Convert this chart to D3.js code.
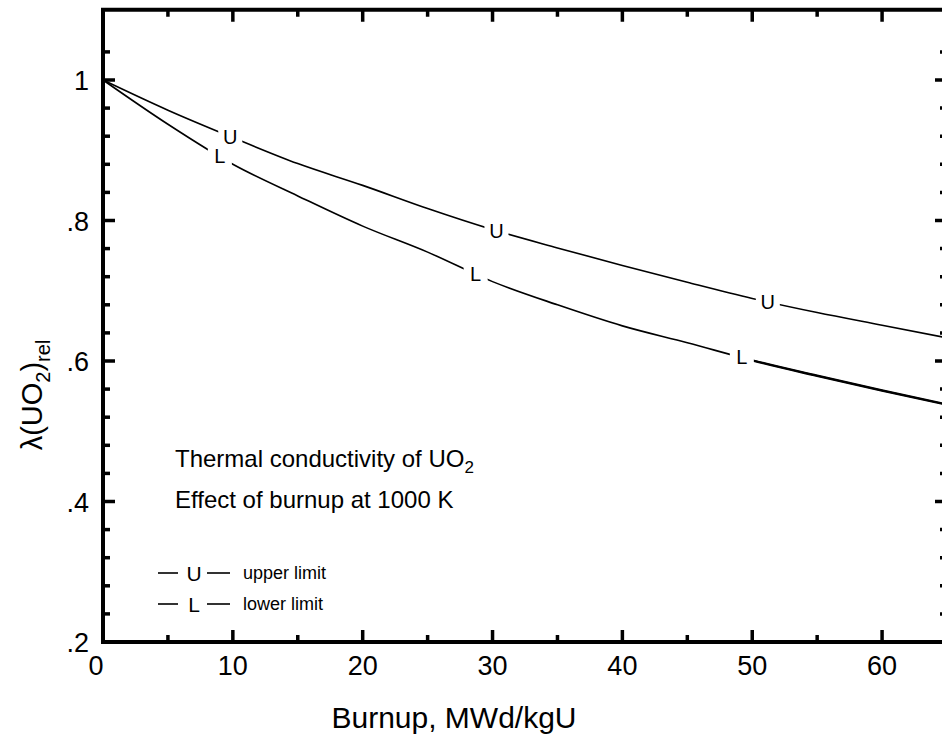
<!DOCTYPE html>
<html>
<head>
<meta charset="utf-8">
<script src="https://cdn.jsdelivr.net/npm/d3@7"></script>
<style>
  body { margin: 0; background: #fff; }
  svg text { font-family: "Liberation Sans", Arial, sans-serif; fill: #000; }
</style>
</head>
<body>
<svg id="chart" width="942" height="734"></svg>
<script>
'use strict';

// burnup, MWd/kgU
var burnup = [0, 5, 10, 15, 20, 25, 30, 35, 40, 45, 50, 55, 60, 65];
// relative conductivity
var upperVals = [1.000, 0.957, 0.918, 0.881, 0.850, 0.817, 0.787, 0.761, 0.736, 0.712, 0.689, 0.669, 0.651, 0.633];
var lowerVals = [1.000, 0.937, 0.880, 0.835, 0.792, 0.755, 0.713, 0.680, 0.650, 0.626, 0.601, 0.579, 0.558, 0.538];

// where the curve letters sit (burnup)
var upperMarks = [9.8, 30.3, 51.2];
var lowerMarks = [9.0, 28.7, 49.2];

var xMajor = [0, 10, 20, 30, 40, 50, 60];
var xMinor = [5, 15, 25, 35, 45, 55];
var yMajor = [0.2, 0.4, 0.6, 0.8, 1.0];
var yMinor = [0.24, 0.28, 0.32, 0.36, 0.44, 0.48, 0.52, 0.56, 0.64, 0.68, 0.72, 0.76, 0.84, 0.88, 0.92, 0.96, 1.04];
var yLabels = [".2", ".4", ".6", ".8", "1"];

var series = [
    {sym: "U", name: "upper limit", vals: upperVals, marks: upperMarks},
    {sym: "L", name: "lower limit", vals: lowerVals, marks: lowerMarks}
];

var svg = d3.select("#chart");

var x = d3.scaleLinear().domain([0, 65]).range([103, 947]),
    y = d3.scaleLinear().domain([0.2, 1.1]).range([642, 9.75]);

var pLeft = x.range()[0], pRight = x.range()[1],
    pBottom = y.range()[0], pTop = y.range()[1];

// curves
var line = d3.line()
    .x(function(d) { return x(d[0]); })
    .y(function(d) { return y(d[1]); })
    .curve(d3.curveMonotoneX);

series.forEach(function(s, k) {
    var pts = burnup.map(function(b, i) { return [b, s.vals[i]]; });
    svg.append("path")
        .attr("d", line(pts))
        .style("fill", "none")
        .style("stroke", "#000")
        .style("stroke-width", 1.6);
    // lower curve is drawn heavier past its last letter
    if (k === 1) {
        var from = s.marks[s.marks.length - 1];
        var interp = d3.scaleLinear().domain(burnup).range(s.vals);
        var tail = [[from, interp(from)]].concat(pts.filter(function(p) { return p[0] > from; }));
        svg.append("path")
            .attr("d", line(tail))
            .style("fill", "none")
            .style("stroke", "#000")
            .style("stroke-width", 2.4);
    }
});

// letters on the curves, with a gap cut out of the line
series.forEach(function(s) {
    var interp = d3.scaleLinear().domain(burnup).range(s.vals);
    s.marks.forEach(function(b) {
        var cx = x(b), cy = y(interp(b));
        svg.append("rect")
            .attr("x", cx - 12).attr("y", cy - 9)
            .attr("width", 24).attr("height", 18)
            .style("fill", "#fff");
        svg.append("text")
            .attr("x", cx).attr("y", cy)
            .attr("text-anchor", "middle")
            .attr("dominant-baseline", "central")
            .style("font-size", "20px")
            .text(s.sym);
    });
});

// frame + ticks
var frame = svg.append("g").style("stroke", "#000");

frame.append("rect")
    .attr("x", pLeft).attr("y", pTop)
    .attr("width", pRight - pLeft).attr("height", pBottom - pTop)
    .style("fill", "none")
    .style("stroke-width", 4);

function xTicks(vals, len) {
    vals.forEach(function(v) {
        frame.append("line").attr("x1", x(v)).attr("x2", x(v))
            .attr("y1", pBottom).attr("y2", pBottom - len).style("stroke-width", 3.5);
        frame.append("line").attr("x1", x(v)).attr("x2", x(v))
            .attr("y1", pTop).attr("y2", pTop + len).style("stroke-width", 3.5);
    });
}
function yTicks(vals, len) {
    vals.forEach(function(v) {
        frame.append("line").attr("y1", y(v)).attr("y2", y(v))
            .attr("x1", pLeft).attr("x2", pLeft + len).style("stroke-width", 3.5);
        frame.append("line").attr("y1", y(v)).attr("y2", y(v))
            .attr("x1", pRight).attr("x2", pRight - len).style("stroke-width", 3.5);
    });
}
xTicks(xMajor, 12);
xTicks(xMinor, 7);
yTicks(yMajor, 12);
yTicks(yMinor, 7);

// tick labels
svg.selectAll(".xlab").data(xMajor).enter().append("text")
    .attr("class", "xlab")
    .attr("x", function(d) { return d === 0 ? x(d) - 7 : x(d); })
    .attr("y", pBottom + 33)
    .attr("text-anchor", "middle")
    .style("font-size", "27px")
    .text(function(d) { return d; });

svg.selectAll(".ylab").data(yMajor).enter().append("text")
    .attr("class", "ylab")
    .attr("x", pLeft - 14)
    .attr("y", function(d) { return y(d) + 10; })
    .attr("text-anchor", "end")
    .style("font-size", "27px")
    .text(function(d, i) { return yLabels[i]; });

// axis titles
svg.append("text")
    .attr("x", 454).attr("y", 728)
    .attr("text-anchor", "middle")
    .style("font-size", "30px")
    .text("Burnup, MWd/kgU");

var yt = svg.append("text")
    .attr("transform", "translate(42,395) rotate(-90)")
    .attr("text-anchor", "middle")
    .style("font-size", "29px");
yt.append("tspan").text("\u03bb(UO");
yt.append("tspan").attr("dy", 8).style("font-size", "20px").text("2");
yt.append("tspan").attr("dy", -8).text(")");
yt.append("tspan").attr("dy", 8).style("font-size", "20px").text("rel");

// annotation
var note = svg.append("text").attr("x", 175).attr("y", 467).style("font-size", "24px");
note.append("tspan").text("Thermal conductivity of UO");
note.append("tspan").attr("dy", 6).style("font-size", "17px").text("2");
svg.append("text").attr("x", 175).attr("y", 508).style("font-size", "24px")
    .text("Effect of burnup at 1000 K");

// legend
var leg = svg.selectAll(".leg").data(series).enter().append("g")
    .attr("class", "leg")
    .attr("transform", function(d, i) { return "translate(158," + (573 + i * 31) + ")"; });
leg.append("line").attr("x1", 0).attr("x2", 20).attr("y1", 0).attr("y2", 0)
    .style("stroke", "#000").style("stroke-width", 1.6);
leg.append("text").attr("x", 36).attr("y", 0)
    .attr("text-anchor", "middle").attr("dominant-baseline", "central")
    .style("font-size", "21px").text(function(d) { return d.sym; });
leg.append("line").attr("x1", 49).attr("x2", 72).attr("y1", 0).attr("y2", 0)
    .style("stroke", "#000").style("stroke-width", 1.6);
leg.append("text").attr("x", 85).attr("y", 0)
    .attr("dominant-baseline", "central")
    .style("font-size", "18px").text(function(d) { return d.name; });
</script>
</body>
</html>
